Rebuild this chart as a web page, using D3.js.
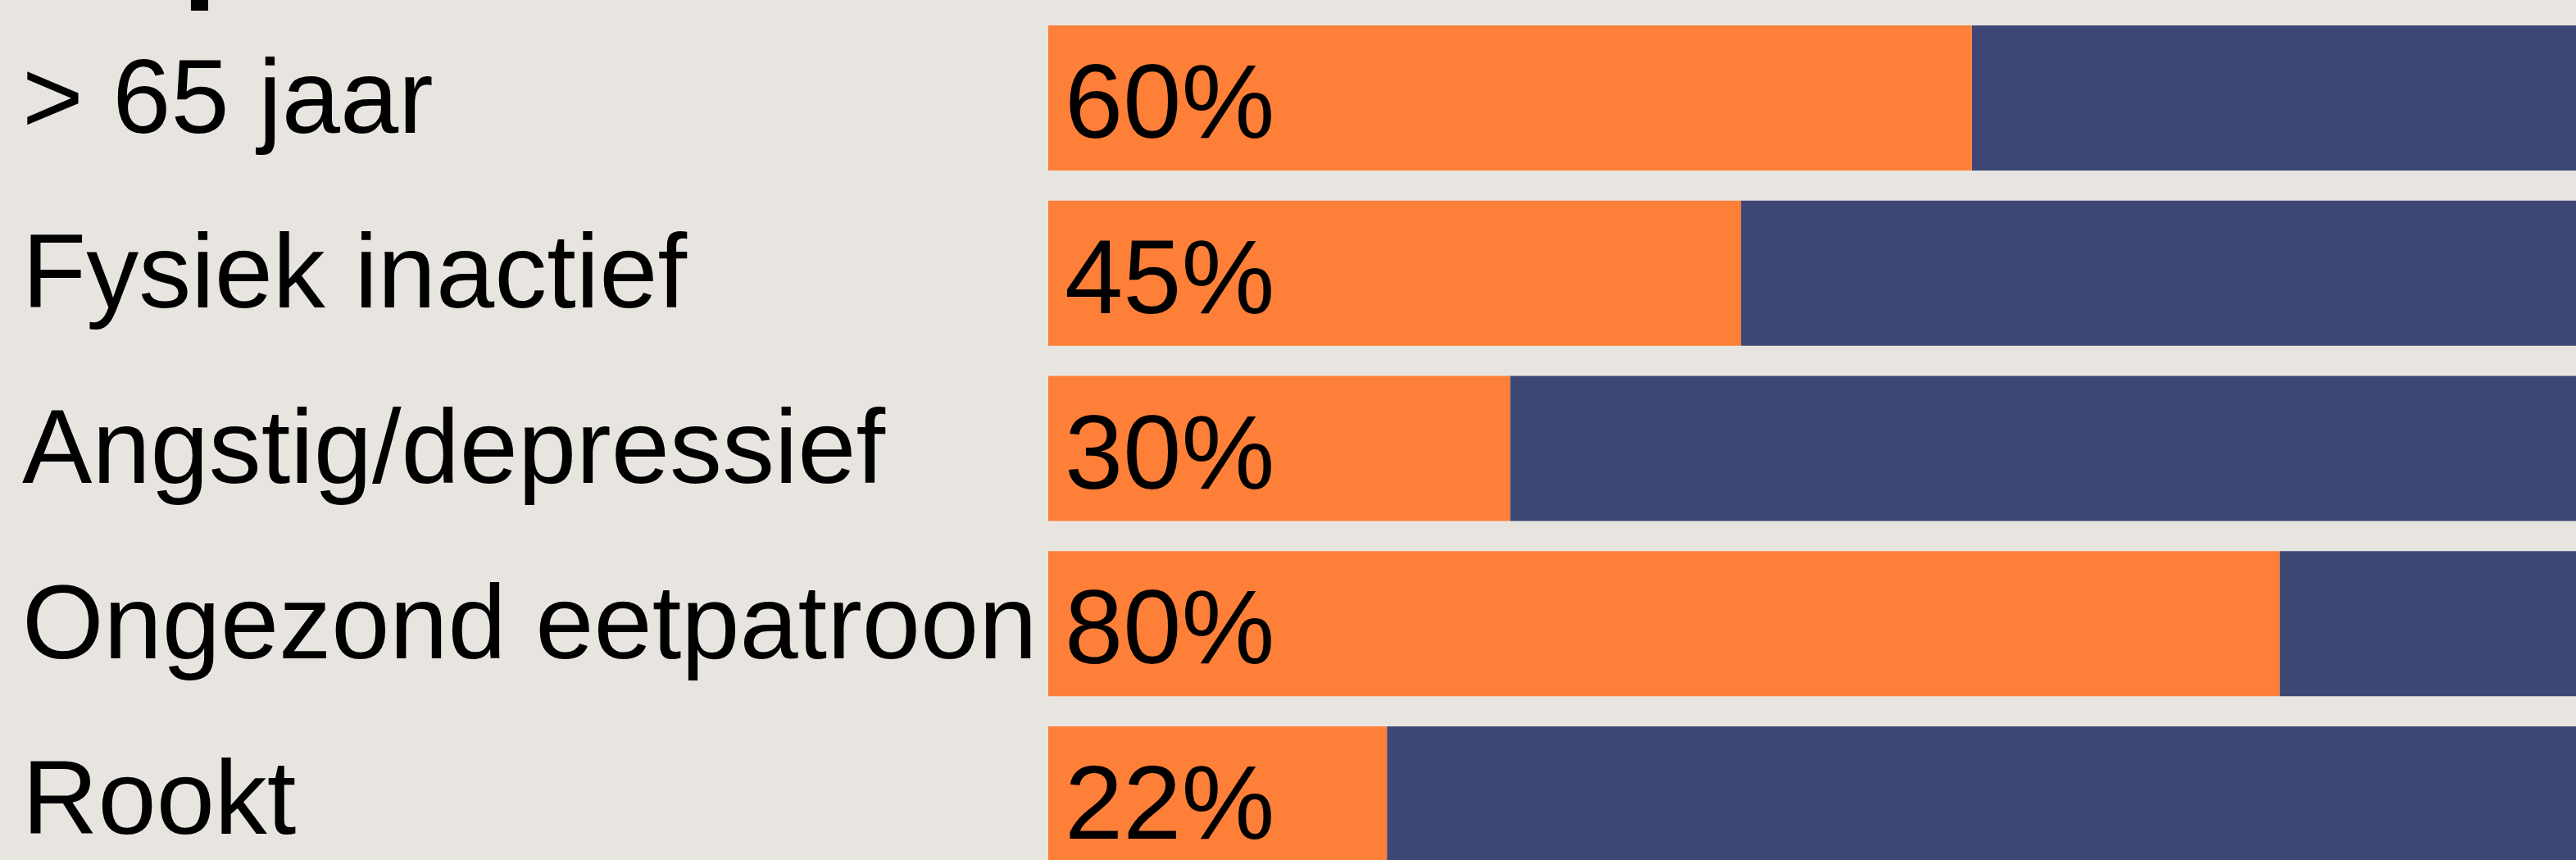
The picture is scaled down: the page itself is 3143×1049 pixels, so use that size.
<!DOCTYPE html>
<html>
<head>
<meta charset="utf-8">
<script src="https://cdn.jsdelivr.net/npm/d3@7"></script>
<style>
  html, body { margin: 0; padding: 0; background: #e8e5e0; overflow: hidden; }
  svg { display: block; font-family: "Liberation Sans", Arial, sans-serif; }
</style>
</head>
<body>
<svg id="chart"></svg>
<script>
// Chart data
const categories = ['> 65 jaar', 'Fysiek inactief', 'Angstig/depressief', 'Ongezond eetpatroon', 'Rookt'];
const percentages = [60, 45, 30, 80, 22];
const title = 'Opbouw';

const width = 3143;
const height = 1049;

const svg = d3.select('#chart')
  .attr('width', width)
  .attr('height', height);

svg.append('rect')
  .attr('width', width)
  .attr('height', height)
  .attr('fill', '#e8e5e0');

// Scales
const x = d3.scaleLinear().domain([0, 100]).range([1279, 3157]);
const y = d3.scaleBand()
  .domain(categories)
  .range([31, 1063])
  .paddingInner(0.172)
  .paddingOuter(0);

const rows = categories.map((c, i) => ({ name: c, value: percentages[i] }));

// Title, mostly above the visible area
svg.append('text')
  .attr('x', 30)
  .attr('y', -37)
  .attr('font-size', 240)
  .attr('fill', '#000')
  .text(title);

// Remainder (blue) bars
svg.selectAll('rect.rest')
  .data(rows)
  .enter()
  .append('rect')
  .attr('class', 'rest')
  .attr('x', d => x(d.value))
  .attr('y', d => y(d.name))
  .attr('width', d => x(100) - x(d.value))
  .attr('height', y.bandwidth())
  .attr('fill', '#3e4774');

// Percentage (orange) bars
svg.selectAll('rect.part')
  .data(rows)
  .enter()
  .append('rect')
  .attr('class', 'part')
  .attr('x', x(0))
  .attr('y', d => y(d.name))
  .attr('width', d => x(d.value) - x(0))
  .attr('height', y.bandwidth())
  .attr('fill', '#fe7f38');

// Category labels
svg.selectAll('text.cat')
  .data(rows)
  .enter()
  .append('text')
  .attr('class', 'cat')
  .attr('x', 27)
  .attr('y', d => y(d.name) + y.bandwidth() / 2)
  .attr('dy', '0.33em')
  .attr('font-size', 128)
  .attr('fill', '#000')
  .text(d => d.name);

// Value labels inside the bars
svg.selectAll('text.val')
  .data(rows)
  .enter()
  .append('text')
  .attr('class', 'val')
  .attr('x', x(0) + 20)
  .attr('y', d => y(d.name) + y.bandwidth() / 2)
  .attr('dy', '0.38em')
  .attr('font-size', 128)
  .attr('fill', '#000')
  .text(d => d.value + '%');
</script>
</body>
</html>
